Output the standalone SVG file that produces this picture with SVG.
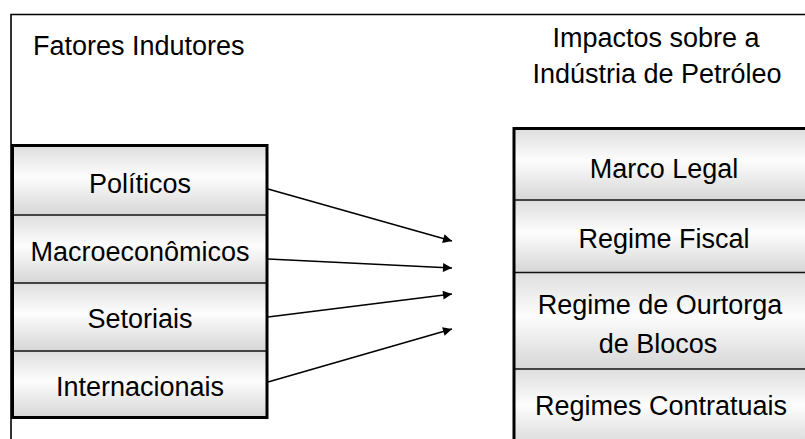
<svg xmlns="http://www.w3.org/2000/svg" width="805" height="439" viewBox="0 0 805 439">
<style>
text{font-family:"Liberation Sans",Arial,sans-serif;font-size:27px;fill:#000}
.c{text-anchor:middle}
.cell{fill:url(#g);stroke:none}
.outer{fill:none;stroke:#000;stroke-width:3}
.div{stroke:#111;stroke-width:1.5}
.con{stroke:#000;stroke-width:1.6;fill:none;marker-end:url(#ah)}
</style>
<defs>
<linearGradient id="g" x1="0" y1="0" x2="0" y2="1">
<stop offset="0" stop-color="#dedede"/>
<stop offset="0.45" stop-color="#fdfdfd"/>
<stop offset="1" stop-color="#d6d6d6"/>
</linearGradient>
<marker id="ah" viewBox="0 0 10 10" refX="10" refY="5" markerWidth="11" markerHeight="9" markerUnits="userSpaceOnUse" orient="auto">
<path d="M0,0 L10,5 L0,10 z" fill="#000"/>
</marker>
</defs>
<rect x="0" y="0" width="805" height="439" fill="#fff"/>
<g id="frame"><path d="M11,439 V14.5 H805" fill="none" stroke="#000" stroke-width="1.6"/></g>
<g id="titles">
<text x="33" y="55">Fatores Indutores</text>
<text class="c" x="656" y="47">Impactos sobre a</text>
<text class="c" x="657" y="83">Indústria de Petróleo</text>
</g>
<g id="left-stack">
<g id="n-politicos"><rect class="cell" x="12.5" y="145.5" width="254.5" height="69.5"/><text class="c" x="140" y="193">Políticos</text></g>
<g id="n-macro"><rect class="cell" x="12.5" y="215" width="254.5" height="68"/><text class="c" x="140" y="261">Macroeconômicos</text></g>
<g id="n-setoriais"><rect class="cell" x="12.5" y="283" width="254.5" height="68"/><text class="c" x="140" y="328">Setoriais</text></g>
<g id="n-intern"><rect class="cell" x="12.5" y="351" width="254.5" height="66.5"/><text class="c" x="140" y="396">Internacionais</text></g>
<line class="div" x1="12.5" y1="215" x2="267" y2="215"/>
<line class="div" x1="12.5" y1="283" x2="267" y2="283"/>
<line class="div" x1="12.5" y1="351" x2="267" y2="351"/>
<rect class="outer" x="12.5" y="145.5" width="254.5" height="272"/>
</g>
<g id="right-stack">
<g id="n-marco"><rect class="cell" x="514" y="128.5" width="300" height="71.5"/><text class="c" x="664" y="178">Marco Legal</text></g>
<g id="n-fiscal"><rect class="cell" x="514" y="200" width="300" height="72.5"/><text class="c" x="664" y="248">Regime Fiscal</text></g>
<g id="n-outorga"><rect class="cell" x="514" y="272.5" width="300" height="96.5"/><text class="c" x="660" y="314">Regime de Ourtorga</text><text class="c" x="658" y="353">de Blocos</text></g>
<g id="n-contrat"><rect class="cell" x="514" y="369" width="300" height="80"/><text class="c" x="661" y="415">Regimes Contratuais</text></g>
<line class="div" x1="514" y1="200" x2="814" y2="200"/>
<line class="div" x1="514" y1="272.5" x2="814" y2="272.5"/>
<line class="div" x1="514" y1="369" x2="814" y2="369"/>
<rect class="outer" x="514" y="128.5" width="300" height="330"/>
</g>
<g id="connectors">
<line class="con" x1="268" y1="189" x2="452" y2="241"/>
<line class="con" x1="268" y1="259" x2="452" y2="268"/>
<line class="con" x1="268" y1="317" x2="452" y2="294"/>
<line class="con" x1="268" y1="382" x2="452" y2="329"/>
</g>
</svg>
